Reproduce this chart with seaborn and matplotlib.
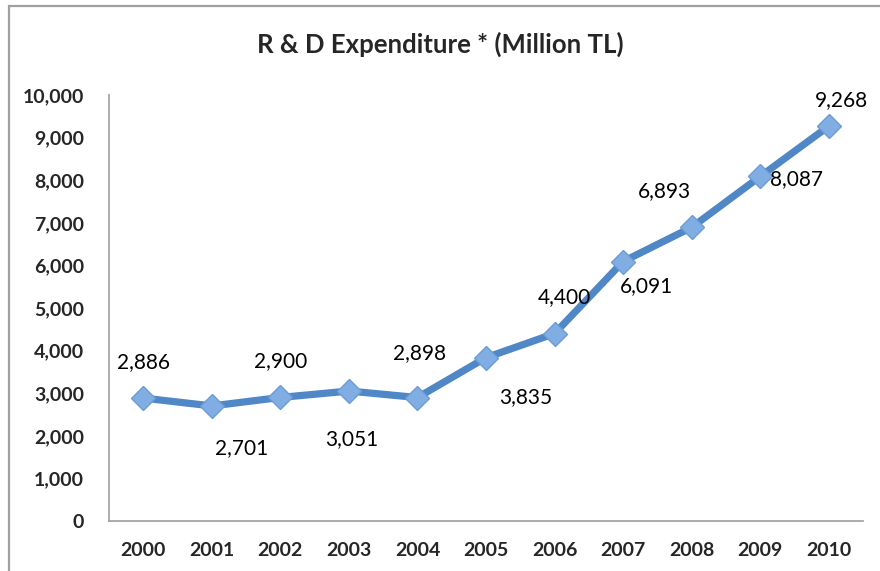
import matplotlib
matplotlib.use("Agg")
import matplotlib.pyplot as plt
from matplotlib.patches import Rectangle
import seaborn as sns
import pandas as pd
import numpy as np

years = ["2000", "2001", "2002", "2003", "2004", "2005", "2006", "2007", "2008", "2009", "2010"]
expenditure = [2886, 2701, 2900, 3051, 2898, 3835, 4400, 6091, 6893, 8087, 9268]
# label offsets in pixels (dx, dy) relative to each point
label_dx = [0, 30, 0, 3, 2, 40, 10, 23, -27, 36, 13]
label_dy = [36, -42, 36, -48, 44, -39, 36, -25, 36, -3, 26]
title = "R & D Expenditure * (Million TL)"

sns.set_style("white")
plt.rcParams["font.family"] = ["Lato", "DejaVu Sans"]

W, H = 880, 571
fig = plt.figure(figsize=(W / 100, H / 100), dpi=100)
ax = fig.add_axes([109 / W, 1 - 521 / H, (863 - 109) / W, (521 - 95) / H])

df = pd.DataFrame({"year": years, "value": expenditure})
df["pos"] = np.arange(len(years))

line_color = "#5087C7"
sns.lineplot(data=df, x="pos", y="value", ax=ax, color=line_color, linewidth=5.2,
             marker="D", markersize=12.5, markerfacecolor="#80AEE3",
             markeredgecolor="#6B9CD6", markeredgewidth=1.0, zorder=3)

ax.set_xlim(-0.5, len(years) - 0.5)
ax.set_ylim(0, 10000)
ax.set_yticks(np.arange(0, 10001, 1000))
ax.set_yticklabels([f"{v:,}" for v in range(0, 10001, 1000)],
                   fontsize=14, fontweight="bold")
ax.set_xticks(df["pos"])
ax.set_xticklabels(years, fontsize=14, fontweight="bold")
ax.set_xticks(np.arange(-0.5, len(years), 1.0), minor=True)
ax.tick_params(axis="x", which="major", length=0, pad=15)
ax.tick_params(axis="x", which="minor", length=5, width=1.3, color="#A6A6A6", direction="out")
ax.tick_params(axis="y", which="major", length=5, width=1.3, color="#A6A6A6", direction="out", pad=13)
ax.set_xlabel("")
ax.set_ylabel("")

for s in ["top", "right"]:
    ax.spines[s].set_visible(False)
for s in ["left", "bottom"]:
    ax.spines[s].set_color("#A6A6A6")
    ax.spines[s].set_linewidth(1.3)

for p, v, dx, dy in zip(df["pos"], expenditure, label_dx, label_dy):
    ax.annotate(f"{v:,}", (p, v), xytext=(dx * 0.72, dy * 0.72), textcoords="offset points",
                ha="center", va="center", fontsize=15, color="black")

fig.text(440 / W, 1 - 44 / H, title, ha="center", va="center",
         fontsize=18.5, fontweight="bold")

fig.patches.append(Rectangle((9 / W, -0.1), 1.2, 1 - 6 / H + 0.1, transform=fig.transFigure,
                             fill=False, edgecolor="#A0A0A0", linewidth=1.6))

fig.savefig("out.png", dpi=100)
